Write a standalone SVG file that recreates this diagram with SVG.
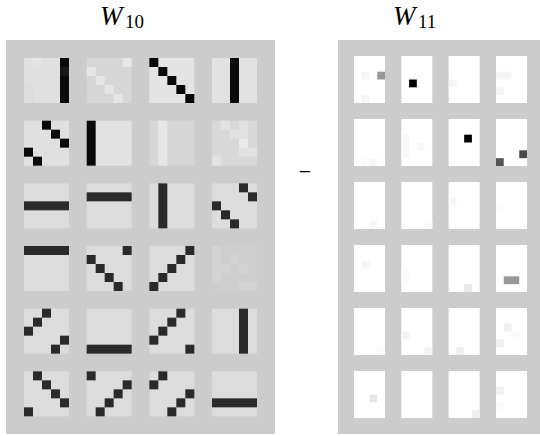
<svg xmlns="http://www.w3.org/2000/svg" width="540" height="436" viewBox="0 0 540 436">
<style>
.ttl{font-family:"Liberation Serif",serif;font-size:27px;font-style:italic;fill:#000}
.sub{font-family:"Liberation Serif",serif;font-size:19px;font-style:normal;fill:#000}
.k{fill:#0a0a0a}
.d{fill:#2a2a2a}
.panel{fill:#cccccc}
.rt{fill:#ffffff}
</style>
<rect width="540" height="436" fill="#ffffff"/>
<text class="ttl" x="100" y="25">W</text><text class="sub" x="125" y="27.5">10</text>
<text class="ttl" x="393" y="25">W</text><text class="sub" x="418" y="27.5">11</text>
<text x="305" y="179" font-family="Liberation Serif,serif" font-size="22" text-anchor="middle">−</text>

<g id="W10">
<rect class="panel" x="6" y="40" width="269" height="394"/>
<!-- row 0 -->
<g id="t00" transform="translate(24,58)"><rect width="45" height="45" fill="#e0e0e0"/><rect x="9" y="0" width="9" height="9" fill="#e4e4e4"/><rect x="0" y="27" width="9" height="18" fill="#dcdcdc"/><rect class="k" x="36" y="0" width="9" height="45"/><rect x="36" y="9" width="9" height="9" fill="#161616"/></g>
<g id="t01" transform="translate(86.67,58)"><rect width="45" height="45" fill="#d6d6d6"/><g fill="#e6e6e6"><rect x="36" y="0" width="9" height="9"/><rect x="0" y="9" width="9" height="9"/><rect x="9" y="18" width="9" height="9"/><rect x="18" y="27" width="9" height="9"/><rect x="27" y="36" width="9" height="9"/></g></g>
<g id="t02" transform="translate(149.33,58)"><rect width="45" height="45" fill="#e4e4e4"/><g class="k"><rect x="0" y="0" width="9" height="9"/><rect x="9" y="9" width="9" height="9"/><rect x="18" y="18" width="9" height="9"/><rect x="27" y="27" width="9" height="9"/><rect x="36" y="36" width="9" height="9"/></g></g>
<g id="t03" transform="translate(212,58)"><rect width="45" height="45" fill="#e2e2e2"/><rect class="k" x="18" y="0" width="9" height="45"/></g>
<!-- row 1 -->
<g id="t10" transform="translate(24,120.67)"><rect width="45" height="45" fill="#e0e0e0"/><g class="k"><rect x="18" y="0" width="9" height="9"/><rect x="27" y="9" width="9" height="9"/><rect x="36" y="18" width="9" height="9"/><rect x="0" y="27" width="9" height="9"/><rect x="9" y="36" width="9" height="9"/></g></g>
<g id="t11" transform="translate(86.67,120.67)"><rect width="45" height="45" fill="#e2e2e2"/><rect class="k" x="0" y="0" width="9" height="45"/></g>
<g id="t12" transform="translate(149.33,120.67)"><rect width="45" height="45" fill="#d6d6d6"/><rect x="9" y="0" width="9" height="45" fill="#e6e6e6"/></g>
<g id="t13" transform="translate(212,120.67)"><rect width="45" height="45" fill="#d8d8d8"/><g fill="#e2e2e2"><rect x="9" y="0" width="9" height="9"/><rect x="27" y="0" width="9" height="9"/><rect x="18" y="9" width="18" height="9"/><rect x="27" y="27" width="18" height="9"/><rect x="0" y="36" width="9" height="9"/></g><rect x="27" y="18" width="9" height="9" fill="#eaeaea"/></g>
<!-- row 2 -->
<g id="t20" transform="translate(24,183.33)"><rect width="45" height="45" fill="#dcdcdc"/><rect class="d" x="0" y="18" width="45" height="9"/></g>
<g id="t21" transform="translate(86.67,183.33)"><rect width="45" height="45" fill="#dcdcdc"/><rect class="d" x="0" y="9" width="45" height="9"/></g>
<g id="t22" transform="translate(149.33,183.33)"><rect width="45" height="45" fill="#dcdcdc"/><rect class="d" x="9" y="0" width="9" height="45"/></g>
<g id="t23" transform="translate(212,183.33)"><rect width="45" height="45" fill="#dcdcdc"/><g class="d"><rect x="27" y="0" width="9" height="9"/><rect x="36" y="9" width="9" height="9"/><rect x="0" y="18" width="9" height="9"/><rect x="9" y="27" width="9" height="9"/><rect x="18" y="36" width="9" height="9"/></g></g>
<!-- row 3 -->
<g id="t30" transform="translate(24,246)"><rect width="45" height="45" fill="#dcdcdc"/><rect class="d" x="0" y="0" width="45" height="9"/></g>
<g id="t31" transform="translate(86.67,246)"><rect width="45" height="45" fill="#dcdcdc"/><g class="d"><rect x="36" y="0" width="9" height="9"/><rect x="0" y="9" width="9" height="9"/><rect x="9" y="18" width="9" height="9"/><rect x="18" y="27" width="9" height="9"/><rect x="27" y="36" width="9" height="9"/></g></g>
<g id="t32" transform="translate(149.33,246)"><rect width="45" height="45" fill="#dcdcdc"/><g class="d"><rect x="36" y="0" width="9" height="9"/><rect x="27" y="9" width="9" height="9"/><rect x="18" y="18" width="9" height="9"/><rect x="9" y="27" width="9" height="9"/><rect x="0" y="36" width="9" height="9"/></g></g>
<g id="t33" transform="translate(212,246)"><rect width="45" height="45" fill="#cecece"/><g fill="#d3d3d3"><rect x="0" y="0" width="9" height="27"/><rect x="18" y="9" width="9" height="9"/><rect x="9" y="18" width="9" height="9"/><rect x="27" y="18" width="9" height="9"/><rect x="0" y="27" width="9" height="9"/><rect x="27" y="36" width="18" height="9"/></g></g>
<!-- row 4 -->
<g id="t40" transform="translate(24,308.67)"><rect width="45" height="45" fill="#dcdcdc"/><g class="d"><rect x="18" y="0" width="9" height="9"/><rect x="9" y="9" width="9" height="9"/><rect x="0" y="18" width="9" height="9"/><rect x="36" y="27" width="9" height="9"/><rect x="27" y="36" width="9" height="9"/></g></g>
<g id="t41" transform="translate(86.67,308.67)"><rect width="45" height="45" fill="#dcdcdc"/><rect class="d" x="0" y="36" width="45" height="9"/></g>
<g id="t42" transform="translate(149.33,308.67)"><rect width="45" height="45" fill="#dcdcdc"/><g class="d"><rect x="27" y="0" width="9" height="9"/><rect x="18" y="9" width="9" height="9"/><rect x="9" y="18" width="9" height="9"/><rect x="0" y="27" width="9" height="9"/><rect x="36" y="36" width="9" height="9"/></g></g>
<g id="t43" transform="translate(212,308.67)"><rect width="45" height="45" fill="#dcdcdc"/><rect class="d" x="27" y="0" width="9" height="45"/></g>
<!-- row 5 -->
<g id="t50" transform="translate(24,371.33)"><rect width="45" height="45" fill="#dcdcdc"/><g class="d"><rect x="9" y="0" width="9" height="9"/><rect x="18" y="9" width="9" height="9"/><rect x="27" y="18" width="9" height="9"/><rect x="36" y="27" width="9" height="9"/><rect x="0" y="36" width="9" height="9"/></g></g>
<g id="t51" transform="translate(86.67,371.33)"><rect width="45" height="45" fill="#dcdcdc"/><g class="d"><rect x="0" y="0" width="9" height="9"/><rect x="36" y="9" width="9" height="9"/><rect x="27" y="18" width="9" height="9"/><rect x="18" y="27" width="9" height="9"/><rect x="9" y="36" width="9" height="9"/></g></g>
<g id="t52" transform="translate(149.33,371.33)"><rect width="45" height="45" fill="#dcdcdc"/><g class="d"><rect x="9" y="0" width="9" height="9"/><rect x="0" y="9" width="9" height="9"/><rect x="36" y="18" width="9" height="9"/><rect x="27" y="27" width="9" height="9"/><rect x="18" y="36" width="9" height="9"/></g></g>
<g id="t53" transform="translate(212,371.33)"><rect width="45" height="45" fill="#dcdcdc"/><rect class="d" x="0" y="27" width="45" height="9"/></g>
</g>

<g id="W11">
<rect class="panel" x="338" y="40" width="202" height="394"/>
<!-- row 0 -->
<g id="r00" transform="translate(354,56)"><rect class="rt" width="31" height="47"/><rect x="7.75" y="15.67" width="7.75" height="7.83" fill="#f5f5f5"/><rect x="23.25" y="15.67" width="7.75" height="7.83" fill="#999999"/><rect x="7.75" y="39.17" width="7.75" height="7.83" fill="#f4f4f4"/></g>
<g id="r01" transform="translate(401.33,56)"><rect class="rt" width="31" height="47"/><rect x="7.75" y="23.5" width="7.75" height="7.83" fill="#000000"/></g>
<g id="r02" transform="translate(448.67,56)"><rect class="rt" width="31" height="47"/><rect x="0" y="23.5" width="7.75" height="7.83" fill="#f4f4f4"/></g>
<g id="r03" transform="translate(496,56)"><rect class="rt" width="31" height="47"/><rect x="0" y="15.67" width="15.5" height="7.83" fill="#f4f4f4"/><rect x="0" y="31.33" width="7.75" height="7.83" fill="#f6f6f6"/></g>
<!-- row 1 -->
<g id="r10" transform="translate(354,119)"><rect class="rt" width="31" height="47"/><rect x="7.75" y="39.17" width="7.75" height="7.83" fill="#fbfbfb"/><rect x="15.5" y="39.17" width="7.75" height="7.83" fill="#f6f6f6"/></g>
<g id="r11" transform="translate(401.33,119)"><rect class="rt" width="31" height="47"/><rect x="0" y="15.67" width="7.75" height="23.5" fill="#f8f8f8"/><rect x="15.5" y="23.5" width="7.75" height="7.83" fill="#f8f8f8"/></g>
<g id="r12" transform="translate(448.67,119)"><rect class="rt" width="31" height="47"/><rect x="15.5" y="15.67" width="7.75" height="7.83" fill="#000000"/></g>
<g id="r13" transform="translate(496,119)"><rect class="rt" width="31" height="47"/><rect x="23.25" y="31.33" width="7.75" height="7.83" fill="#4a4a4a"/><rect x="0" y="39.17" width="7.75" height="7.83" fill="#555555"/></g>
<!-- row 2 -->
<g id="r20" transform="translate(354,182)"><rect class="rt" width="31" height="47"/><rect x="15.5" y="39.17" width="7.75" height="7.83" fill="#f6f6f6"/></g>
<g id="r21" transform="translate(401.33,182)"><rect class="rt" width="31" height="47"/><rect x="23.25" y="39.17" width="7.75" height="7.83" fill="#fafafa"/></g>
<g id="r22" transform="translate(448.67,182)"><rect class="rt" width="31" height="47"/><rect x="0" y="15.67" width="7.75" height="7.83" fill="#f6f6f6"/></g>
<g id="r23" transform="translate(496,182)"><rect class="rt" width="31" height="47"/><rect x="0" y="23.5" width="7.75" height="7.83" fill="#fcfcfc"/></g>
<!-- row 3 -->
<g id="r30" transform="translate(354,245)"><rect class="rt" width="31" height="47"/><rect x="7.75" y="15.67" width="7.75" height="7.83" fill="#f6f6f6"/></g>
<g id="r31" transform="translate(401.33,245)"><rect class="rt" width="31" height="47"/><rect x="0" y="23.5" width="7.75" height="15.67" fill="#fbfbfb"/></g>
<g id="r32" transform="translate(448.67,245)"><rect class="rt" width="31" height="47"/><rect x="15.5" y="39.17" width="7.75" height="7.83" fill="#e8e8e8"/></g>
<g id="r33" transform="translate(496,245)"><rect class="rt" width="31" height="47"/><rect x="7.75" y="31.33" width="15.5" height="7.83" fill="#999999"/></g>
<!-- row 4 -->
<g id="r40" transform="translate(354,308)"><rect class="rt" width="31" height="47"/><rect x="23.25" y="39.17" width="7.75" height="7.83" fill="#fbfbfb"/></g>
<g id="r41" transform="translate(401.33,308)"><rect class="rt" width="31" height="47"/><rect x="0" y="23.5" width="7.75" height="7.83" fill="#f2f2f2"/><rect x="23.25" y="39.17" width="7.75" height="7.83" fill="#f2f2f2"/></g>
<g id="r42" transform="translate(448.67,308)"><rect class="rt" width="31" height="47"/><rect x="7.75" y="39.17" width="7.75" height="7.83" fill="#eeeeee"/></g>
<g id="r43" transform="translate(496,308)"><rect class="rt" width="31" height="47"/><rect x="7.75" y="15.67" width="7.75" height="7.83" fill="#f0f0f0"/><rect x="15.5" y="23.5" width="7.75" height="7.83" fill="#fafafa"/><rect x="0" y="31.33" width="7.75" height="7.83" fill="#f0f0f0"/></g>
<!-- row 5 -->
<g id="r50" transform="translate(354,371)"><rect class="rt" width="31" height="47"/><rect x="15.5" y="23.5" width="7.75" height="7.83" fill="#e6e6e6"/></g>
<g id="r51" transform="translate(401.33,371)"><rect class="rt" width="31" height="47"/></g>
<g id="r52" transform="translate(448.67,371)"><rect class="rt" width="31" height="47"/><rect x="23.25" y="39.17" width="7.75" height="7.83" fill="#eeeeee"/></g>
<g id="r53" transform="translate(496,371)"><rect class="rt" width="31" height="47"/><rect x="0" y="15.67" width="7.75" height="7.83" fill="#f2f2f2"/><rect x="0" y="31.33" width="7.75" height="7.83" fill="#fafafa"/></g>
</g>
</svg>
